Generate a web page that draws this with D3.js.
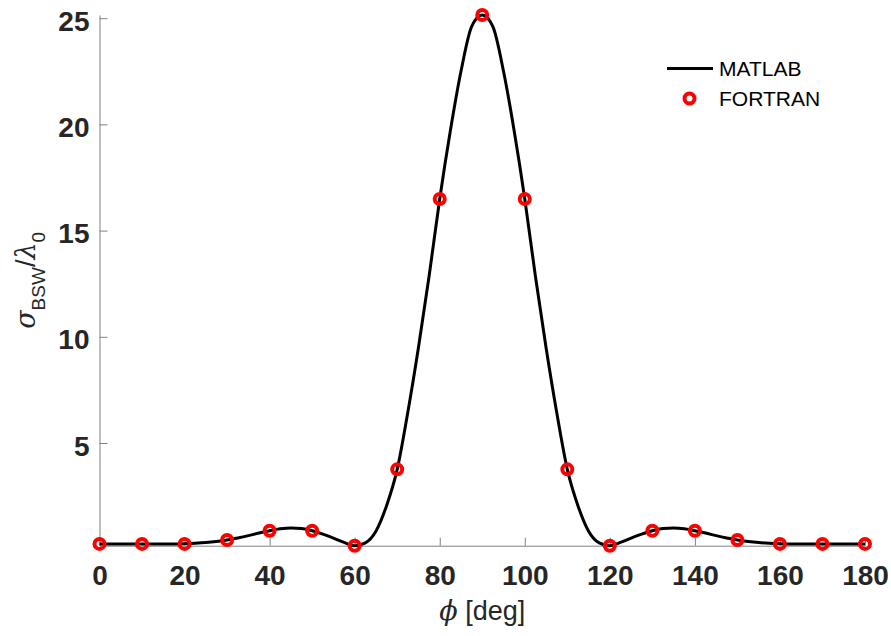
<!DOCTYPE html>
<html>
<head>
<meta charset="utf-8">
<script src="https://cdn.jsdelivr.net/npm/d3@7"></script>
<style>
  html, body { margin: 0; padding: 0; background: #fff; }
  svg { display: block; }
  text { font-family: "Liberation Sans", Arial, Helvetica, sans-serif; }
</style>
</head>
<body>
<svg id="chart" width="891" height="636"></svg>
<script>
// ---- Data ----
const phiMatlab = [0, 2.5, 5, 7.5, 10, 12.5, 15, 17.5, 20, 22.5, 25, 27.5, 30, 32.5, 35, 37.5, 40, 42.5, 45, 47.5,
  50, 52.5, 55, 57.5, 60, 62.5, 65, 67.5, 70, 72.5, 75, 77.5, 80, 82.5, 85, 87.5, 90,
  92.5, 95, 97.5, 100, 102.5, 105, 107.5, 110, 112.5, 115, 117.5, 120, 122.5, 125, 127.5, 130,
  132.5, 135, 137.5, 140, 142.5, 145, 147.5, 150, 152.5, 155, 157.5, 160, 162.5, 165, 167.5, 170,
  172.5, 175, 177.5, 180];
const sigmaMatlab = [0.25, 0.25, 0.25, 0.25, 0.25, 0.25, 0.25, 0.25, 0.26, 0.28, 0.31, 0.36, 0.43, 0.53, 0.64, 0.76, 0.87, 0.96, 1.00, 0.97,
  0.87, 0.71, 0.52, 0.32, 0.165, 0.30, 0.85, 2.05, 3.76, 6.45, 9.5, 12.85, 16.49, 19.7, 22.5, 24.6, 25.15,
  24.6, 22.5, 19.7, 16.49, 12.85, 9.5, 6.45, 3.76, 2.05, 0.85, 0.30, 0.165, 0.32, 0.52, 0.71, 0.87,
  0.97, 1.00, 0.96, 0.87, 0.76, 0.64, 0.53, 0.43, 0.36, 0.31, 0.28, 0.26, 0.25, 0.25, 0.25, 0.25,
  0.25, 0.25, 0.25, 0.25];
const phiFortran = [0, 10, 20, 30, 40, 50, 60, 70, 80, 90, 100, 110, 120, 130, 140, 150, 160, 170, 180];
const sigmaFortran = [0.25, 0.25, 0.25, 0.43, 0.87, 0.87, 0.165, 3.76, 16.49, 25.15, 16.49, 3.76, 0.165, 0.87, 0.87, 0.43, 0.25, 0.25, 0.25];
const xTicks = [0, 20, 40, 60, 80, 100, 120, 140, 160, 180];
const yTicks = [5, 10, 15, 20, 25];
const seriesNames = ["MATLAB", "FORTRAN"];

// ---- Layout ----
const svg = d3.select("#chart");
const mLeft = 99.5, mRight = 865, mTop = 15, mBottom = 545.7;
const textColor = "#262626";
const axisColor = "#808080";

const x = d3.scaleLinear().domain([0, 180]).range([mLeft, mRight]);
const y = d3.scaleLinear().domain([d3.min(sigmaFortran), d3.max(sigmaFortran)]).range([mBottom, mTop]);

// ---- Axes ----
const xAxis = svg.append("g").attr("transform", `translate(0,${mBottom})`)
  .call(d3.axisBottom(x).tickValues(xTicks).tickSizeInner(-8).tickSizeOuter(0).tickPadding(0).tickFormat(d3.format("d")));
xAxis.select(".domain").attr("stroke", axisColor).attr("stroke-width", 1);
xAxis.selectAll(".tick line").attr("stroke", axisColor).attr("stroke-width", 1);
xAxis.selectAll(".tick text").attr("y", 39).attr("dy", 0)
  .attr("fill", textColor).style("font-size", "28px").style("font-weight", "bold");

const yAxis = svg.append("g").attr("transform", `translate(${mLeft},0)`)
  .call(d3.axisLeft(y).tickValues(yTicks).tickSizeInner(-8).tickSizeOuter(0).tickPadding(0).tickFormat(d3.format("d")));
yAxis.select(".domain").attr("stroke", axisColor).attr("stroke-width", 1);
yAxis.selectAll(".tick line").attr("stroke", axisColor).attr("stroke-width", 1);
yAxis.selectAll(".tick text").attr("x", -10).attr("dy", 12)
  .attr("fill", textColor).style("font-size", "28px").style("font-weight", "bold");

// ---- Axis labels ----
const xl = svg.append("text").attr("x", (mLeft + mRight) / 2).attr("y", 620)
  .attr("text-anchor", "middle").attr("fill", textColor).style("font-size", "27px");
xl.append("tspan").style("font-style", "italic").style("font-family", "'DejaVu Serif', serif").text("\u03D5");
xl.append("tspan").text(" [deg]");

const yl = svg.append("text").attr("transform", `translate(35,${(mTop + mBottom) / 2}) rotate(-90)`)
  .attr("text-anchor", "middle").attr("fill", textColor).style("font-size", "27px");
yl.append("tspan").style("font-style", "italic").style("font-family", "'DejaVu Serif', serif").text("\u03C3");
yl.append("tspan").attr("dy", 10).style("font-size", "19px").text("BSW");
yl.append("tspan").attr("dy", -10).text("/");
yl.append("tspan").style("font-style", "italic").style("font-family", "'DejaVu Serif', serif").text("\u03BB");
yl.append("tspan").attr("dy", 10).style("font-size", "19px").text("0");

// ---- Data marks ----
const matlabData = phiMatlab.map((p, i) => ({ p, v: sigmaMatlab[i] }));
const fortranData = phiFortran.map((p, i) => ({ p, v: sigmaFortran[i] }));

const line = d3.line().x(d => x(d.p)).y(d => y(d.v)).curve(d3.curveMonotoneX);
svg.append("path").datum(matlabData).attr("d", line)
  .attr("fill", "none").attr("stroke", "#000").attr("stroke-width", 3).attr("stroke-linejoin", "round");

svg.append("g").selectAll("circle").data(fortranData).join("circle")
  .attr("cx", d => x(d.p)).attr("cy", d => y(d.v)).attr("r", 5)
  .attr("fill", "none").attr("stroke", "#ff0000").attr("stroke-width", 4);

// ---- Legend ----
const lg = svg.append("g");
lg.append("line").attr("x1", 667).attr("x2", 713).attr("y1", 68.5).attr("y2", 68.5)
  .attr("stroke", "#000").attr("stroke-width", 3);
lg.append("circle").attr("cx", 689.5).attr("cy", 98.5).attr("r", 5)
  .attr("fill", "none").attr("stroke", "#ff0000").attr("stroke-width", 4);
lg.selectAll("text.leg").data(seriesNames).join("text").attr("class", "leg")
  .attr("x", 719).attr("y", (d, i) => 76 + i * 29.5)
  .attr("fill", "#000").style("font-size", "21px").text(d => d);
</script>
</body>
</html>
